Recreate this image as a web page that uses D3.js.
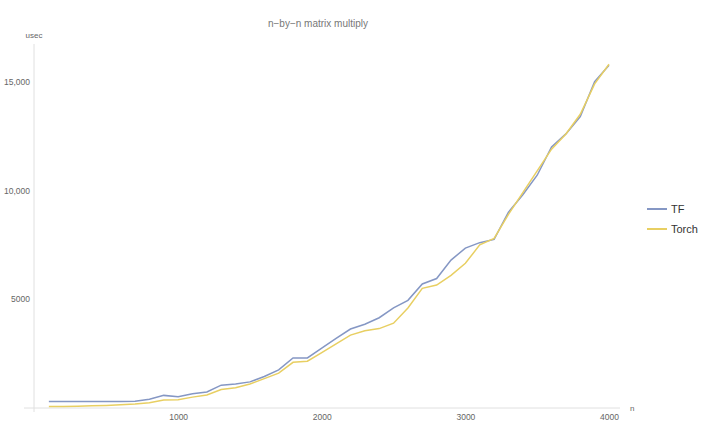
<!DOCTYPE html>
<html>
<head>
<meta charset="utf-8">
<script src="https://cdn.jsdelivr.net/npm/d3@7"></script>
<style>
  body { margin: 0; background: #fff; }
  svg { font-family: "Liberation Sans", Arial, sans-serif; }
</style>
</head>
<body>
<svg width="708" height="438"></svg>
<script>
// matrix size n
var sizes = [100, 200, 300, 400, 500, 600, 700, 800, 900, 1000,
  1100, 1200, 1300, 1400, 1500, 1600, 1700, 1800, 1900, 2000,
  2100, 2200, 2300, 2400, 2500, 2600, 2700, 2800, 2900, 3000,
  3100, 3200, 3300, 3400, 3500, 3600, 3700, 3800, 3900, 4000];

// usec
var tfTimes = [300, 300, 300, 300, 300, 300, 310, 400, 580, 520,
  650, 740, 1050, 1100, 1200, 1450, 1750, 2300, 2300, 2750,
  3200, 3630, 3850, 4150, 4600, 4950, 5700, 5950, 6800, 7350,
  7600, 7750, 9000, 9800, 10700, 12000, 12600, 13400, 15000, 15750];
var torchTimes = [70, 70, 80, 100, 120, 150, 180, 240, 370, 380,
  500, 600, 850, 930, 1100, 1350, 1600, 2100, 2150, 2550,
  2950, 3350, 3550, 3650, 3900, 4600, 5500, 5650, 6100, 6650,
  7500, 7800, 8900, 9900, 10900, 11900, 12600, 13500, 14900, 15800];

var series = [
  { name: 'TF', values: tfTimes, color: '#8597c4' },
  { name: 'Torch', values: torchTimes, color: '#e8cf62' }
];

var xTicks = [1000, 2000, 3000, 4000];
var yTicks = [5000, 10000, 15000];
var yTickLabels = ['5000', '10,000', '15,000'];

var svg = d3.select('svg');

var x = d3.scaleLinear().domain([0, 4000]).range([34.5, 609]);
var y = d3.scaleLinear().domain([0, 17100]).range([408, 36]);

// title
svg.append('text')
  .attr('x', 318).attr('y', 27)
  .attr('text-anchor', 'middle')
  .attr('font-size', 10)
  .attr('fill', '#777')
  .text('n\u2212by\u2212n matrix multiply');

// axes
var xAxis = svg.append('g')
  .attr('transform', 'translate(0,408)')
  .call(d3.axisBottom(x).tickValues(xTicks).tickSize(0).tickPadding(6)
    .tickFormat(d3.format('d')));
xAxis.select('.domain').remove();
xAxis.append('line')
  .attr('x1', 24).attr('x2', 620)
  .attr('stroke', '#e0e0e0').attr('stroke-width', 1);
xAxis.selectAll('text').attr('fill', '#666').attr('font-size', 8.5);

var yAxis = svg.append('g')
  .attr('transform', 'translate(34,0)')
  .call(d3.axisLeft(y).tickValues(yTicks).tickSize(0).tickPadding(4)
    .tickFormat((d, i) => yTickLabels[i]));
yAxis.select('.domain').remove();
yAxis.append('line')
  .attr('y1', 44).attr('y2', 412)
  .attr('stroke', '#e0e0e0').attr('stroke-width', 1);
yAxis.selectAll('text').attr('fill', '#666').attr('font-size', 8.5);

svg.append('text')
  .attr('x', 34).attr('y', 38)
  .attr('text-anchor', 'middle')
  .attr('font-size', 8)
  .attr('fill', '#666')
  .text('usec');

svg.append('text')
  .attr('x', 630).attr('y', 411)
  .attr('font-size', 8)
  .attr('fill', '#666')
  .text('n');

// lines
var line = d3.line()
  .x((d, i) => x(sizes[i]))
  .y(d => y(d));

svg.selectAll('.series')
  .data(series)
  .enter().append('path')
  .attr('class', 'series')
  .attr('d', d => line(d.values))
  .attr('fill', 'none')
  .attr('stroke', d => d.color)
  .attr('stroke-width', 1.5);

// legend
var legend = svg.selectAll('.legend')
  .data(series)
  .enter().append('g')
  .attr('class', 'legend')
  .attr('transform', (d, i) => 'translate(647,' + (209 + i * 20) + ')');

legend.append('line')
  .attr('x1', 0).attr('x2', 20)
  .attr('stroke', d => d.color)
  .attr('stroke-width', 2);

legend.append('text')
  .attr('x', 24).attr('y', 4)
  .attr('font-size', 11)
  .attr('fill', '#333')
  .text(d => d.name);
</script>
</body>
</html>
